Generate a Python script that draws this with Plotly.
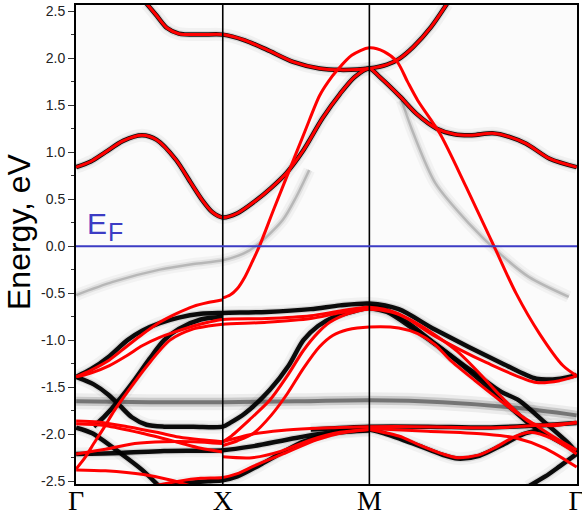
import math
import plotly.graph_objects as go

# ---- high-symmetry path (k in units of Gamma-X) ----
K_G, K_X, K_M = 0.0, 1.0, 2.0
K_G2 = 2.0 + math.sqrt(2.0)
k_ticks = [K_G, K_X, K_M, K_G2]
k_labels = ["Γ", "X", "M", "Γ"]

e_ticks = [-2.5, -2.0, -1.5, -1.0, -0.5, 0.0, 0.5, 1.0, 1.5, 2.0, 2.5]
e_minor = [-2.25, -1.75, -1.25, -0.75, -0.25, 0.25, 0.75, 1.25, 1.75, 2.25]

# ---- red (calculated) bands: (k, E) ----
red_RA = ([0.48, 0.55, 0.62, 0.70, 0.85, 1.0, 1.15, 1.3, 1.48, 1.66, 1.8, 2.0, 2.12, 2.2, 2.3, 2.42, 2.53],
          [2.58, 2.45, 2.32, 2.26, 2.25, 2.25, 2.19, 2.09, 1.96, 1.89, 1.875, 1.89, 1.93, 1.99, 2.12, 2.33, 2.58])
red_R1 = ([0, 0.1, 0.2, 0.32, 0.45, 0.55, 0.68, 0.78, 0.86, 0.93, 1.0, 1.1, 1.23, 1.33, 1.43, 1.55, 1.68, 1.8, 1.9,
           2.0, 2.07, 2.21, 2.32, 2.46, 2.58, 2.7, 2.84, 2.96, 3.07, 3.23, 3.414],
          [0.84, 0.9, 1.0, 1.12, 1.18, 1.13, 0.92, 0.68, 0.49, 0.36, 0.305, 0.35, 0.49, 0.62, 0.77, 1.02, 1.36, 1.62, 1.8,
           1.89, 1.8, 1.59, 1.41, 1.25, 1.19, 1.18, 1.2, 1.16, 1.09, 0.93, 0.84])
red_R2 = ([1.0, 1.05, 1.1, 1.15, 1.2, 1.25, 1.35, 1.46, 1.56, 1.66, 1.72, 1.78, 1.88, 2.0, 2.1, 2.19, 2.26, 2.33,
           2.48, 2.66, 2.85, 3.0, 3.16, 3.32, 3.414],
          [-0.55, -0.52, -0.45, -0.33, -0.17, 0.0, 0.4, 0.83, 1.22, 1.6, 1.75, 1.87, 2.03, 2.11, 2.07, 1.96, 1.75, 1.55,
           1.2, 0.63, 0.0, -0.5, -0.93, -1.27, -1.38])
red_R3 = ([0, 0.1, 0.227, 0.35, 0.45, 0.57, 0.68, 0.8, 0.9, 1.0],
          [-1.39, -1.32, -1.21, -1.06, -0.94, -0.81, -0.72, -0.64, -0.6, -0.57])
red_R4 = ([0, 0.1, 0.227, 0.35, 0.45, 0.57, 0.68, 0.8, 0.9, 1.0, 1.3, 1.6, 1.8, 2.0, 2.2, 2.45, 2.8, 3.14, 3.3, 3.414],
          [-1.39, -1.35, -1.27, -1.16, -1.06, -0.97, -0.91, -0.85, -0.81, -0.78, -0.77, -0.74, -0.69, -0.65, -0.72,
           -0.96, -1.24, -1.45, -1.43, -1.38])
red_R5 = ([0, 0.06, 0.12, 0.19, 0.26, 0.35, 0.48, 0.64, 0.8, 0.9, 1.0, 1.3, 1.6, 1.8, 2.0, 2.15, 2.3, 2.6, 2.95,
           3.1, 3.25, 3.414],
          [-2.37, -2.25, -2.1, -1.93, -1.75, -1.55, -1.28, -1.0, -0.88, -0.85, -0.83, -0.81, -0.77, -0.71, -0.67, -0.7,
           -0.8, -1.12, -1.68, -1.88, -1.91, -1.87])
red_Rd1 = ([1.0, 1.05, 1.18, 1.32, 1.44, 1.55, 1.65, 1.73, 1.85, 2.0],
           [-2.08, -2.03, -1.85, -1.64, -1.38, -1.11, -0.92, -0.81, -0.72, -0.66])
red_Rd2 = ([1.0, 1.1, 1.21, 1.33, 1.44, 1.55, 1.66, 1.75, 1.85, 2.0, 2.2, 2.33, 2.45, 2.55, 2.72, 2.89, 3.0, 3.12,
            3.27, 3.414],
           [-2.12, -2.07, -1.99, -1.8, -1.57, -1.3, -1.07, -0.95, -0.89, -0.86, -0.87, -0.93, -1.05, -1.21, -1.43,
            -1.64, -1.77, -1.89, -2.04, -2.17])
red_L1 = ([0, 0.15, 0.35, 0.55, 0.7, 0.85, 1.0], [-1.86, -1.87, -1.92, -1.98, -2.03, -2.06, -2.08])
red_L2 = ([0, 0.2, 0.45, 0.68, 0.85, 1.0], [-1.89, -1.91, -1.99, -2.08, -2.15, -2.19])
red_L4 = ([0, 0.2, 0.4, 0.6, 0.8, 1.0], [-2.21, -2.16, -2.1, -2.08, -2.08, -2.1])
red_L5a = ([0, 0.2, 0.46, 0.65, 0.8], [-2.38, -2.39, -2.43, -2.49, -2.56])
red_L5b = ([0.5, 0.7, 0.85, 1.0, 1.1, 1.21, 1.41, 1.64, 1.8, 2.0],
           [-2.56, -2.5, -2.47, -2.46, -2.42, -2.34, -2.21, -2.06, -1.99, -1.95])
red_M1 = ([1.0, 1.2, 1.4, 1.6, 1.8, 2.0], [-2.08, -2.0, -1.96, -1.94, -1.93, -1.92])
red_M2 = ([1.0, 1.2, 1.4, 1.6, 1.8, 2.0], [-2.24, -2.25, -2.18, -2.06, -1.98, -1.95])
red_N1 = ([2.0, 2.3, 2.6, 2.9, 3.1, 3.414], [-1.92, -1.92, -1.93, -1.93, -1.91, -1.88])
red_N2 = ([2.0, 2.2, 2.35, 2.5, 2.6, 2.75, 2.85, 3.0, 3.1, 3.25, 3.414],
          [-1.95, -2.02, -2.12, -2.21, -2.25, -2.22, -2.15, -2.02, -1.98, -2.05, -2.21])
red_N3 = ([2.0, 2.4, 2.8, 3.0, 3.2, 3.414], [-1.94, -1.97, -2.0, -2.04, -2.15, -2.35])

red_bands = [red_RA, red_R1, red_R2, red_R3, red_R4, red_R5, red_Rd1, red_Rd2, red_L1, red_L2,
             red_L4, red_L5a, red_L5b, red_M1, red_M2, red_N1, red_N2, red_N3]

# ---- black (spectral-function) bands ----
blk_RA = red_RA
blk_R1 = red_R1
blk_1 = ([0, 0.1, 0.227, 0.35, 0.45, 0.57, 0.7, 0.85, 1.0, 1.3, 1.6, 1.8, 2.0, 2.2, 2.45, 2.91, 3.14, 3.3, 3.414],
         [-1.39, -1.31, -1.17, -1.0, -0.9, -0.82, -0.76, -0.72, -0.71, -0.7, -0.67, -0.63, -0.61, -0.67, -0.89,
          -1.25, -1.41, -1.41, -1.37])
blk_2 = ([0, 0.12, 0.22, 0.3, 0.38, 0.48, 0.6, 0.8, 1.0, 1.05, 1.15, 1.32, 1.45, 1.55, 1.65, 1.75, 1.9, 2.0],
         [-1.39, -1.47, -1.58, -1.7, -1.82, -1.9, -1.92, -1.92, -1.92, -1.88, -1.78, -1.53, -1.27, -1.0, -0.85,
          -0.76, -0.69, -0.65])
blk_3 = ([0.12, 0.2, 0.28, 0.4, 0.5, 0.6, 0.7, 0.85, 1.0],
         [-1.92, -1.8, -1.66, -1.42, -1.2, -1.0, -0.88, -0.78, -0.75])
blk_4 = ([2.0, 2.1, 2.25, 2.45, 2.7, 2.9, 3.02, 3.2, 3.36, 3.414],
         [-0.64, -0.67, -0.8, -1.04, -1.33, -1.55, -1.64, -1.88, -2.1, -2.2])
blk_5 = ([2.0, 2.12, 2.3, 2.5, 2.75, 2.95, 3.1, 3.25, 3.414],
         [-0.66, -0.7, -0.88, -1.1, -1.42, -1.7, -1.9, -2.04, -2.18])
blk_dip = ([2.0, 2.1, 2.3, 2.5, 2.6, 2.75, 2.9, 3.05, 3.15], [-1.95, -1.99, -2.1, -2.22, -2.26, -2.23, -2.12, -2.0, -1.96])
blk_br = ([3.08, 3.2, 3.3, 3.414], [-2.56, -2.45, -2.34, -2.21])
blk_gx1 = ([0, 0.11, 0.3, 0.45, 0.57], [-1.93, -1.99, -2.2, -2.38, -2.56])
blk_gx2 = ([0, 0.3, 0.6, 1.0, 1.2, 1.5, 1.8, 2.0], [-2.21, -2.2, -2.18, -2.17, -2.13, -2.04, -1.97, -1.95])
blk_L5 = ([0.55, 0.75, 0.9, 1.0, 1.1, 1.25, 1.4, 1.55, 1.75, 2.0],
          [-2.56, -2.52, -2.5, -2.49, -2.45, -2.33, -2.2, -2.08, -1.99, -1.96])
blk_flat = ([1.6, 2.0, 2.4, 2.8, 3.1, 3.414], [-1.95, -1.92, -1.92, -1.93, -1.91, -1.88])

black_bands = [blk_RA, blk_R1, blk_1, blk_2, blk_3, blk_4, blk_5, blk_dip, blk_br, blk_gx1, blk_gx2,
               blk_L5, blk_flat]

# ---- faint shadow bands ----
shd_1 = ([0.0, 0.25, 0.57, 0.8, 1.0, 1.14, 1.25, 1.41, 1.5, 1.59],
         [-0.52, -0.38, -0.25, -0.19, -0.15, -0.08, 0.03, 0.28, 0.52, 0.81])
shd_2 = ([2.22, 2.3, 2.45, 2.68, 2.89, 3.09, 3.36], [1.55, 1.2, 0.67, 0.24, -0.08, -0.33, -0.54])
shd_flat = ([0, 0.5, 1.0, 1.5, 2.0, 2.5, 3.0, 3.414], [-1.65, -1.66, -1.66, -1.65, -1.64, -1.66, -1.72, -1.8])
shadow_bands = [shd_1, shd_2]

fig = go.Figure()


def add_line(band, color, width):
    fig.add_trace(go.Scatter(x=band[0], y=band[1], mode="lines",
                             line=dict(color=color, width=width, shape="spline", smoothing=0.8),
                             hoverinfo="skip", showlegend=False))


# flat blurry band
add_line(shd_flat, "rgba(0,0,0,0.06)", 16)
add_line(shd_flat, "rgba(0,0,0,0.14)", 9)
add_line(shd_flat, "rgba(0,0,0,0.42)", 4)
for b in shadow_bands:
    add_line(b, "rgba(0,0,0,0.035)", 12)
    add_line(b, "rgba(0,0,0,0.07)", 6)
    add_line(b, "rgba(0,0,0,0.18)", 2.5)
for b in black_bands:
    add_line(b, "rgba(0,0,0,0.04)", 13)
    add_line(b, "rgba(0,0,0,0.10)", 7)
for b in black_bands:
    add_line(b, "rgba(0,0,0,0.95)", 4.5)
for b in red_bands:
    add_line(b, "#ff0000", 3)

fig.add_shape(type="line", xref="x", yref="paper", x0=K_X, x1=K_X, y0=0, y1=1,
              line=dict(color="black", width=1.6), layer="above")
fig.add_shape(type="line", xref="x", yref="paper", x0=K_M, x1=K_M, y0=0, y1=1,
              line=dict(color="black", width=1.6), layer="above")
fig.add_shape(type="line", xref="paper", yref="y", x0=0, x1=1, y0=0, y1=0,
              line=dict(color="#3c3cc4", width=2), layer="above")

fig.add_annotation(x=0.143, y=0.24, xref="x", yref="y", text="E", showarrow=False,
                   xanchor="center", yanchor="middle",
                   font=dict(family="Liberation Sans", size=30, color="#3c3cc4"))
fig.add_annotation(x=0.27, y=0.15, xref="x", yref="y", text="F", showarrow=False,
                   xanchor="center", yanchor="middle",
                   font=dict(family="Liberation Sans", size=25, color="#3c3cc4"))
fig.add_annotation(x=-0.114, y=0.528, xref="paper", yref="paper", text="Energy, eV", showarrow=False,
                   xanchor="center", yanchor="middle", textangle=-90,
                   font=dict(family="Liberation Sans", size=32, color="black"))

fig.update_layout(
    width=582, height=517,
    margin=dict(l=76, r=5, t=5, b=33),
    paper_bgcolor="white", plot_bgcolor="#fbfbfb",
    xaxis=dict(range=[K_G - 0.001, K_G2 + 0.002], tickvals=k_ticks, ticktext=k_labels, ticks="", ticklen=0,
               ticklabelstandoff=-10, ticklabeloverflow="allow",
               tickfont=dict(family="Liberation Serif", size=28, color="black"), automargin=False,
               showgrid=False, zeroline=False, showline=True, mirror=True,
               linecolor="black", linewidth=2),
    yaxis=dict(range=[-2.53, 2.565], tickvals=e_ticks, ticktext=[f"{v:.1f}" for v in e_ticks],
               ticks="outside", ticklen=6, tickcolor="#333", tickwidth=1, automargin=False,
               tickfont=dict(family="Liberation Sans", size=14, color="#222"),
               minor=dict(tickvals=e_minor, ticks="outside", ticklen=3, tickcolor="#333", tickwidth=1),
               showgrid=False, zeroline=False, showline=True, mirror=True,
               linecolor="black", linewidth=2),
)

fig.write_html("out.html", config={"displayModeBar": False},
               post_script="document.body.style.margin='0px';")
